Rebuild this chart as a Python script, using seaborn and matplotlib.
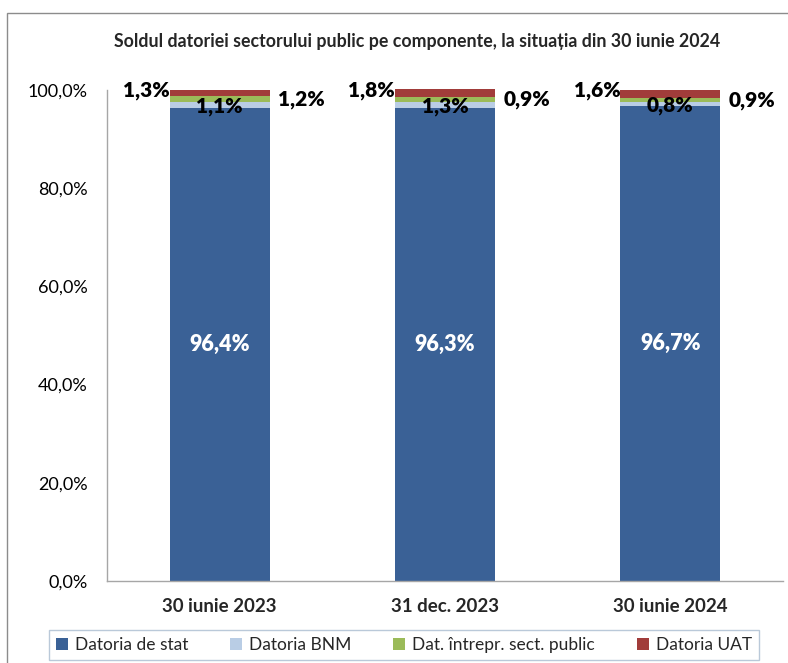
import matplotlib
matplotlib.use("Agg")
import matplotlib.pyplot as plt
import seaborn as sns
import pandas as pd
import numpy as np
from matplotlib.patches import Rectangle, Patch

categories = ["30 iunie 2023", "31 dec. 2023", "30 iunie 2024"]
datoria_stat = [96.4, 96.3, 96.7]
datoria_bnm = [1.1, 1.3, 0.8]
dat_intrepr = [1.2, 0.9, 0.9]
datoria_uat = [1.3, 1.8, 1.6]
series_names = ["Datoria de stat", "Datoria BNM", "Dat. întrepr. sect. public", "Datoria UAT"]
y_ticks = [0, 20, 40, 60, 80, 100]

colors = ["#3A6196", "#B9CDE5", "#9BBB59", "#A13C3A"]

sns.set_theme(style="white")
plt.rcParams["font.family"] = ["Lato", "DejaVu Sans"]

fig = plt.figure(figsize=(7.88, 6.63), dpi=100)
ax = fig.add_axes([107/788, 1-581/663, (783-107)/788, (581-90)/663])

df = pd.DataFrame({"cat": categories, "stat": datoria_stat, "bnm": datoria_bnm,
                   "intr": dat_intrepr, "uat": datoria_uat})
c1 = df["stat"]
c2 = c1 + df["bnm"]
c3 = c2 + df["intr"]
c4 = c3 + df["uat"]
width = 100/225.3
for cum, col in zip([c4, c3, c2, c1], colors[::-1]):
    sns.barplot(x=df["cat"], y=cum, color=col, width=width, ax=ax,
                saturation=1, edgecolor="none", linewidth=0, clip_on=False)

ax.set_xlim(-0.5, 2.5)
ax.set_ylim(0, 100)
ax.set_yticks(y_ticks)
ax.set_yticklabels([f"{v:.1f}%".replace(".", ",") for v in y_ticks], fontsize=13)
ax.set_xlabel("")
ax.set_ylabel("")
ax.tick_params(axis="y", pad=14, length=0, colors="#000000")
ax.tick_params(axis="x", pad=12, length=0)
for lbl in ax.get_xticklabels():
    lbl.set_fontweight("bold")
    lbl.set_fontsize(13.5)
for s in ["top", "right"]:
    ax.spines[s].set_visible(False)
for s in ["left", "bottom"]:
    ax.spines[s].set_color("#A6A6A6")
    ax.spines[s].set_linewidth(1)

fmt = lambda v: f"{v:.1f}%".replace(".", ",")
lw = "heavy"
for i in range(len(categories)):
    ax.text(i, c1[i]/2, fmt(datoria_stat[i]), ha="center", va="center",
            color="white", fontsize=15.5, fontweight=lw)
    ax.text(i, (c1[i]+c2[i])/2 - 0.3, fmt(datoria_bnm[i]), ha="center", va="center",
            color="black", fontsize=15, fontweight=lw)
    ax.annotate(fmt(dat_intrepr[i]), xy=(i + width/2, (c2[i]+c3[i])/2), xytext=(6, 0),
                textcoords="offset points", ha="left", va="center",
                fontsize=15, fontweight=lw, color="black")
    ax.annotate(fmt(datoria_uat[i]), xy=(i - width/2, 99.8), xytext=(0, 0),
                textcoords="offset points", ha="right", va="center",
                fontsize=15, fontweight=lw, color="black", annotation_clip=False)

fig.text(417/788, 1-42/663, "Soldul datoriei sectorului public pe componente, la situația din 30 iunie 2024",
         ha="center", va="center", fontsize=12.8, fontweight="bold")

handles = [Patch(facecolor=c, edgecolor="none") for c in colors]
leg = fig.legend(handles, series_names, loc="center", bbox_to_anchor=(404/788, 1-645/663),
                 ncol=4, fontsize=12.5, frameon=True, fancybox=False,
                 handlelength=0.7, handleheight=0.7, handletextpad=0.4,
                 columnspacing=2.4, borderpad=0.4)
leg.get_frame().set_edgecolor("#A9BCD0")
leg.get_frame().set_linewidth(1)

fig.patches.append(Rectangle((7/788, -0.01), 1.0, 1-13/663+0.01, transform=fig.transFigure,
                             fill=False, edgecolor="#8C8C8C", linewidth=1))

fig.savefig("out.png", dpi=100)
